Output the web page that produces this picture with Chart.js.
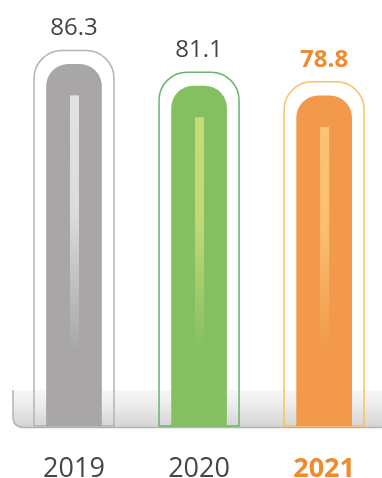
<!DOCTYPE html>
<html>
<head>
<meta charset="utf-8">
<script src="https://cdn.jsdelivr.net/npm/chart.js@4"></script>
<style>
  html, body { margin: 0; padding: 0; background: #fff; overflow: hidden; }
  #wrap { width: 382px; height: 478px; position: relative; }
</style>
</head>
<body>
<div id="wrap"><canvas id="barChart"></canvas></div>
<script>
const years = ['2019', '2020', '2021'];
const values = [86.3, 81.1, 78.8];

// per-bar styling
const fillColors = ['#a8a6a7', '#84bf62', '#f2994b'];
const outlineColors = ['#b4b4b4', '#6bb469', '#fbc063'];
const stripeColors = ['226,226,226', '200,218,120', '250,196,116'];
const labelColors = ['#454545', '#454545', '#f08a2e'];
const FONT = '"Open Sans", "DejaVu Sans", sans-serif';

const decor = {
    id: 'decor',
    beforeDatasetsDraw(chart) {
        const ctx = chart.ctx;
        const base = chart.scales.y.getPixelForValue(0);

        // grey shelf under the bars
        ctx.save();
        const top = base - 36, left = 13, r = 11, bottom = base + 1.5;
        const g = ctx.createLinearGradient(0, top, 0, bottom);
        g.addColorStop(0, '#f7f7f7');
        g.addColorStop(0.35, '#eeeeee');
        g.addColorStop(1, '#d3d3d3');
        ctx.beginPath();
        ctx.moveTo(left, top);
        ctx.lineTo(left, bottom - r);
        ctx.quadraticCurveTo(left, bottom, left + r, bottom);
        ctx.lineTo(chart.width + 5, bottom);
        ctx.lineTo(chart.width + 5, top);
        ctx.closePath();
        ctx.fillStyle = g;
        ctx.fill();
        ctx.beginPath();
        ctx.moveTo(left, top);
        ctx.lineTo(left, bottom - r);
        ctx.quadraticCurveTo(left, bottom, left + r, bottom);
        ctx.lineTo(chart.width + 5, bottom);
        ctx.strokeStyle = '#b3b3b3';
        ctx.lineWidth = 1.5;
        ctx.stroke();

        // outlines around each bar
        chart.getDatasetMeta(0).data.forEach((bar, i) => {
            const x0 = bar.x - 40, x1 = bar.x + 40, y0 = bar.y - 14, rr = 28;
            ctx.beginPath();
            ctx.moveTo(x0, base);
            ctx.lineTo(x0, y0 + rr);
            ctx.arcTo(x0, y0, x0 + rr, y0, rr);
            ctx.lineTo(x1 - rr, y0);
            ctx.arcTo(x1, y0, x1, y0 + rr, rr);
            ctx.lineTo(x1, base);
            ctx.closePath();
            ctx.strokeStyle = outlineColors[i];
            ctx.lineWidth = 1.5;
            ctx.stroke();
        });
        ctx.restore();
    },
    afterDatasetsDraw(chart) {
        const ctx = chart.ctx;
        ctx.save();
        chart.getDatasetMeta(0).data.forEach((bar, i) => {
            // light stripe fading downwards
            const sTop = bar.y + 31, sBottom = 352;
            const g = ctx.createLinearGradient(0, sTop, 0, sBottom);
            g.addColorStop(0, 'rgba(' + stripeColors[i] + ',1)');
            g.addColorStop(0.45, 'rgba(' + stripeColors[i] + ',0.9)');
            g.addColorStop(1, 'rgba(' + stripeColors[i] + ',0)');
            ctx.fillStyle = g;
            ctx.fillRect(bar.x - 4, sTop, 9, sBottom - sTop);

            // value label
            ctx.fillStyle = labelColors[i];
            ctx.font = (i === 2 ? 'bold ' : '') + '24px ' + FONT;
            ctx.textAlign = 'center';
            ctx.textBaseline = 'alphabetic';
            ctx.fillText(values[i].toFixed(1), bar.x, bar.y - 29);
        });
        ctx.restore();
    }
};

new Chart(document.getElementById('barChart'), {
    type: 'bar',
    data: {
        labels: years,
        datasets: [{
            data: values,
            backgroundColor: fillColors,
            borderWidth: 0,
            borderRadius: 22,
            borderSkipped: 'start',
            barThickness: 55,
            clip: false
        }]
    },
    options: {
        responsive: true,
        maintainAspectRatio: false,
        animation: false,
        events: [],
        layout: { padding: { left: 74, right: 52, top: 7, bottom: 0 } },
        plugins: {
            legend: { display: false },
            tooltip: { enabled: false }
        },
        scales: {
            x: {
                offset: false,
                grid: { display: false, drawTicks: false },
                border: { display: false },
                afterFit(scale) { scale.height = 52; },
                ticks: {
                    padding: 27,
                    color: ctx => labelColors[ctx.index],
                    font: ctx => ({ family: FONT, size: 27, weight: ctx.index === 2 ? 'bold' : 'normal' })
                }
            },
            y: {
                display: false,
                min: 0,
                max: 100
            }
        }
    },
    plugins: [decor]
});
</script>
</body>
</html>
